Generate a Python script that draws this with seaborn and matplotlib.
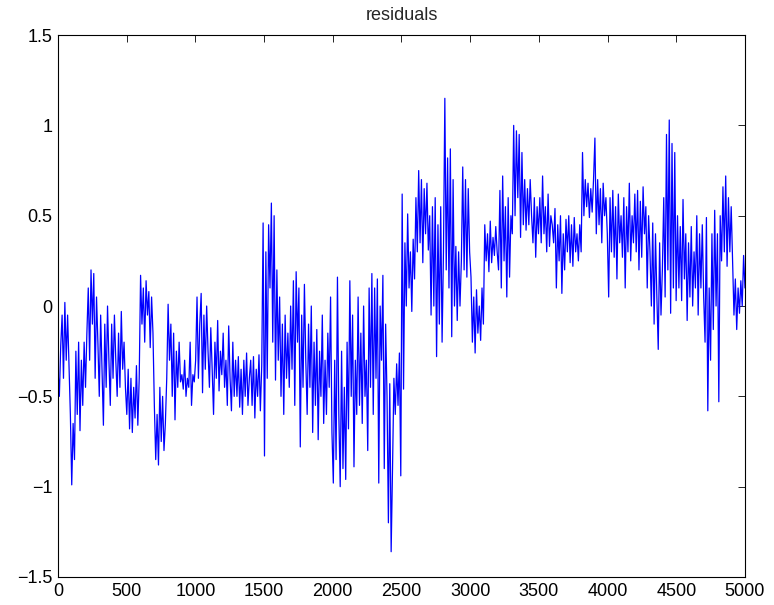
import numpy as np
import pandas as pd
import matplotlib
matplotlib.use("Agg")
import matplotlib.pyplot as plt
import seaborn as sns

# Residual trace, 10 readings per 100-sample block (0 .. 5000)
residuals = [
    -0.35, -0.50, -0.22, -0.05, -0.40, 0.02, -0.30, -0.05, -0.32, -0.60,   # 0
    -0.99, -0.65, -0.85, -0.25, -0.60, -0.20, -0.69, -0.30, -0.55, -0.20,  # 100
    -0.45, -0.15, 0.10, -0.30, 0.20, -0.10, 0.18, -0.40, 0.05, -0.20,      # 200
    -0.50, -0.05, -0.35, -0.66, -0.10, -0.45, 0.00, -0.30, -0.55, -0.10,   # 300
    -0.40, -0.05, -0.30, -0.50, -0.15, -0.45, -0.03, -0.35, -0.20, -0.45,  # 400
    -0.60, -0.35, -0.68, -0.40, -0.70, -0.45, -0.62, -0.33, -0.66, -0.40,  # 500
    0.17, -0.10, 0.10, -0.20, 0.14, -0.05, 0.08, -0.23, 0.05, -0.15,       # 600
    -0.55, -0.85, -0.60, -0.88, -0.45, -0.75, -0.50, -0.80, -0.65, -0.40,  # 700
    0.01, -0.30, -0.10, -0.50, -0.15, -0.63, -0.25, -0.45, -0.20, -0.42,   # 800
    -0.38, -0.46, -0.30, -0.50, -0.40, -0.45, -0.20, -0.55, -0.38, -0.42,  # 900
    -0.30, 0.05, -0.40, -0.10, 0.07, -0.48, -0.05, -0.35, 0.00, -0.25,     # 1000
    -0.45, -0.12, -0.35, -0.60, -0.20, -0.40, -0.08, -0.47, -0.25, -0.38,  # 1100
    -0.15, -0.45, -0.30, -0.55, -0.11, -0.40, -0.58, -0.20, -0.50, -0.30,  # 1200
    -0.50, -0.28, -0.56, -0.35, -0.60, -0.30, -0.50, -0.26, -0.55, -0.40,  # 1300
    -0.30, -0.55, -0.28, -0.62, -0.35, -0.50, -0.27, -0.58, -0.33, 0.46,   # 1400
    -0.83, 0.30, -0.40, 0.45, 0.10, 0.57, -0.20, 0.50, -0.41, 0.20,       # 1500
    -0.30, 0.05, -0.50, -0.10, -0.60, -0.05, -0.40, -0.15, -0.45, 0.00,    # 1600
    -0.35, 0.14, -0.55, 0.19, -0.20, 0.10, -0.78, -0.05, -0.45, 0.12,      # 1700
    -0.30, -0.60, -0.10, -0.45, 0.00, -0.70, -0.20, -0.55, -0.13, -0.74,   # 1800
    -0.25, -0.50, -0.05, -0.65, -0.30, -0.60, -0.15, -0.45, 0.05, -0.70,   # 1900
    -0.98, -0.30, -0.85, 0.16, -0.60, -1.00, -0.25, -0.90, -0.45, -0.96,   # 2000
    -0.20, -0.68, 0.14, -0.50, -0.05, -0.89, -0.30, -0.60, 0.05, -0.55,    # 2100
    -0.15, -0.65, 0.00, -0.50, -0.30, -0.80, 0.10, -0.45, 0.18, -0.60,     # 2200
    0.10, -0.40, 0.15, -0.98, 0.00, -0.30, 0.17, -0.90, -0.10, -0.50,      # 2300
    -1.20, -0.43, -1.36, -0.90, -0.40, -0.60, -0.32, -0.55, -0.26, -0.94,  # 2400
    0.62, -0.46, 0.35, 0.00, 0.51, 0.10, 0.30, -0.03, 0.37, 0.15,          # 2500
    0.60, 0.30, 0.75, 0.35, 0.70, 0.24, 0.65, 0.40, 0.68, 0.31,            # 2600
    0.50, -0.05, 0.55, 0.00, 0.60, -0.28, 0.45, -0.10, 0.55, -0.20,        # 2700
    0.30, 1.15, 0.20, 0.82, 0.10, 0.87, -0.17, 0.70, 0.00, 0.33,           # 2800
    -0.08, 0.30, 0.00, 0.25, 0.77, 0.20, 0.70, 0.16, 0.65, 0.30,           # 2900
    0.16, -0.20, 0.05, -0.26, 0.09, -0.15, 0.00, -0.19, 0.10, -0.10,       # 3000
    0.45, 0.25, 0.40, 0.19, 0.47, 0.24, 0.38, 0.28, 0.44, 0.30,            # 3100
    0.20, 0.64, 0.10, 0.72, 0.25, 0.55, 0.05, 0.60, 0.16, 0.50,            # 3200
    0.40, 1.00, 0.50, 0.97, 0.60, 0.95, 0.38, 0.85, 0.45, 0.70,            # 3300
    0.42, 0.65, 0.45, 0.70, 0.50, 0.35, 0.60, 0.27, 0.55, 0.40,            # 3400
    0.60, 0.35, 0.72, 0.40, 0.55, 0.30, 0.62, 0.33, 0.50, 0.45,            # 3500
    0.35, 0.54, 0.10, 0.45, 0.25, 0.50, 0.07, 0.40, 0.20, 0.48,            # 3600
    0.30, 0.50, 0.24, 0.45, 0.22, 0.49, 0.30, 0.40, 0.25, 0.45,            # 3700
    0.30, 0.85, 0.50, 0.70, 0.55, 0.68, 0.49, 0.65, 0.52, 0.70,            # 3800
    0.93, 0.40, 0.70, 0.45, 0.65, 0.35, 0.68, 0.50, 0.60, 0.40,            # 3900
    0.05, 0.60, 0.30, 0.64, 0.27, 0.55, 0.15, 0.62, 0.35, 0.50,            # 4000
    0.27, 0.60, 0.10, 0.55, 0.30, 0.68, 0.25, 0.50, 0.35, 0.62,            # 4100
    0.30, 0.64, 0.20, 0.58, 0.27, 0.66, 0.40, 0.55, 0.10, 0.50,            # 4200
    0.30, 0.00, 0.46, -0.10, 0.40, 0.05, -0.24, 0.35, -0.05, 0.20,         # 4300
    0.60, 0.05, 0.95, 0.20, 1.03, -0.04, 0.90, 0.10, 0.85, 0.03,           # 4400
    0.50, 0.10, 0.44, 0.03, 0.59, 0.15, 0.40, -0.08, 0.35, 0.05,           # 4500
    0.44, 0.00, 0.30, 0.10, 0.50, -0.05, 0.40, 0.10, 0.45, 0.05,           # 4600
    -0.20, 0.49, -0.58, 0.10, -0.30, 0.40, -0.13, 0.53, 0.00, 0.40,        # 4700
    -0.53, 0.50, 0.25, 0.66, 0.30, 0.72, 0.22, 0.60, 0.30, 0.55,           # 4800
    0.25, -0.05, 0.15, -0.13, 0.10, -0.04, 0.14, 0.00, 0.28, 0.10,         # 4900
]

x_ticks = [0, 500, 1000, 1500, 2000, 2500, 3000, 3500, 4000, 4500, 5000]
y_ticks = [-1.5, -1, -0.5, 0, 0.5, 1, 1.5]
y_tick_labels = ["\u22121.5", "\u22121", "\u22120.5", "0", "0.5", "1", "1.5"]

df = pd.DataFrame({
    "sample": np.linspace(0, 5000, len(residuals)),
    "residual": residuals,
})

sns.set_theme(style="white")
plt.rcParams["font.family"] = ["Liberation Sans", "DejaVu Sans"]

fig = plt.figure(figsize=(7.74, 6.05), dpi=100)
ax = fig.add_axes([0.0749, 0.0463, 0.8876, 0.8957])

sns.lineplot(data=df, x="sample", y="residual", ax=ax,
             color="#0000ff", linewidth=0.9, estimator=None)

ax.set_xlim(0, 5000)
ax.set_ylim(-1.5, 1.5)
ax.set_xticks(x_ticks)
ax.set_yticks(y_ticks)
ax.set_xticklabels([str(t) for t in x_ticks])
ax.set_yticklabels(y_tick_labels)
ax.set_xlabel("")
ax.set_ylabel("")
ax.set_title("residuals", fontsize=13, pad=11)

ax.tick_params(direction="in", length=5, width=0.6, colors="black",
               labelsize=13, top=True, right=True, pad=4)
for side in ax.spines.values():
    side.set_visible(True)
    side.set_color("black")
    side.set_linewidth(0.8)
ax.grid(False)

fig.savefig("out.png", dpi=100, facecolor="white")
